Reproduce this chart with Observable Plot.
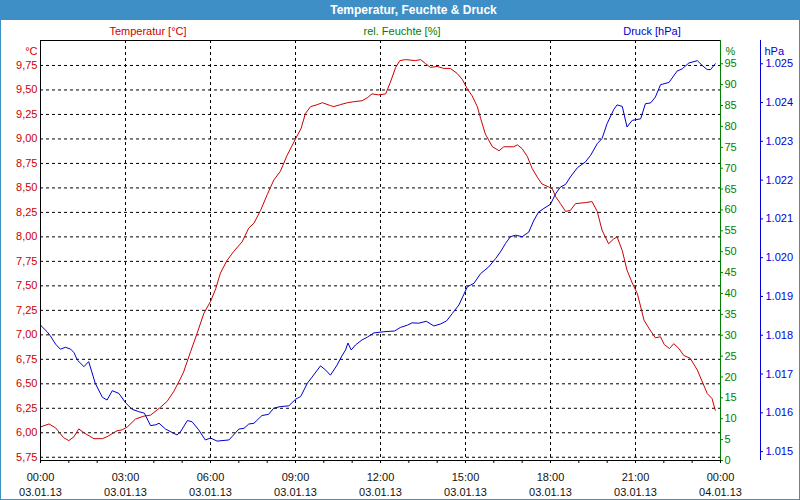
<!DOCTYPE html>
<html>
<head>
<meta charset="utf-8">
<script src="https://cdn.jsdelivr.net/npm/d3@7"></script>
<script src="https://cdn.jsdelivr.net/npm/@observablehq/plot@0.6"></script>
<style>
  html, body { margin: 0; padding: 0; background: #fff; }
  #wrap { position: relative; width: 800px; height: 500px; overflow: hidden; background: #fff; font-family: "Liberation Sans", Arial, sans-serif; }
  #title { position: absolute; left: 0; top: 0; width: 800px; height: 20px; background: #3f8fc7; color: #fff;
           font-weight: bold; font-size: 12px; line-height: 20px; text-align: center; padding-left: 27px; box-sizing: border-box; z-index: 3; }
  #border { position: absolute; left: 0; top: 0; width: 800px; height: 500px; border: 1px solid #3f8fc7; box-sizing: border-box; z-index: 4; pointer-events: none; }
  .lg { position: absolute; top: 24px; font-size: 11px; line-height: 14px; transform: translateX(-50%); white-space: nowrap; z-index: 3; }
  #chart { position: absolute; left: 0; top: 0; z-index: 1; }
</style>
</head>
<body>
<div id="wrap">
  <div id="title">Temperatur, Feuchte &amp; Druck</div>
  <div class="lg" style="left:148px;color:#cc0000">Temperatur [°C]</div>
  <div class="lg" style="left:402px;color:#008000">rel. Feuchte [%]</div>
  <div class="lg" style="left:652px;color:#0000cc">Druck [hPa]</div>
  <div id="chart"></div>
  <div id="border"></div>
</div>
<script>
// time in minutes since 03.01.13 00:00
const tempMinutes = [0,18,32,49,60,71,81,92,113,131,141,162,173,184,201,219,233,254,268,282,296,303,318,332,346,360,371,381,395,409,427,441,452,466,480,494,508,522,540,552,561,572,586,597,614,621,635,650,663,681,692,702,716,731,741,752,761,773,794,805,815,826,840,854,868,882,893,904,914,925,932,942,957,971,981,1002,1010,1020,1031,1041,1052,1062,1076,1084,1091,1101,1112,1122,1133,1154,1168,1179,1189,1203,1214,1221,1232,1242,1253,1264,1278,1288,1302,1313,1321,1332,1341,1352,1362,1376,1391,1412,1422,1429];
const tempValues = [6.06,6.09,6.05,5.95,5.92,5.96,6.04,6.00,5.94,5.94,5.96,6.02,6.03,6.06,6.14,6.17,6.18,6.26,6.32,6.42,6.55,6.62,6.83,7.02,7.22,7.34,7.47,7.63,7.76,7.85,7.95,8.09,8.14,8.27,8.43,8.58,8.67,8.83,9.00,9.11,9.26,9.33,9.35,9.37,9.34,9.33,9.35,9.37,9.38,9.39,9.42,9.46,9.45,9.46,9.58,9.73,9.80,9.81,9.80,9.81,9.77,9.73,9.74,9.72,9.72,9.67,9.61,9.51,9.44,9.33,9.21,9.05,8.92,8.88,8.92,8.92,8.94,8.90,8.82,8.70,8.61,8.54,8.51,8.49,8.41,8.34,8.26,8.27,8.34,8.35,8.36,8.26,8.07,7.93,7.98,8.00,7.86,7.66,7.53,7.42,7.15,7.07,6.97,6.98,6.90,6.86,6.91,6.86,6.79,6.76,6.64,6.40,6.35,6.23];

const pressMinutes = [0,14,21,32,42,53,64,71,78,92,102,116,131,141,152,166,180,194,208,220,233,244,251,265,279,289,296,311,321,335,349,360,374,399,409,420,431,441,452,469,483,494,508,526,540,551,565,575,593,604,614,627,637,646,651,658,667,681,692,706,727,750,762,777,787,801,817,833,847,860,872,886,904,918,932,949,964,974,985,995,1006,1020,1034,1045,1055,1066,1080,1091,1101,1112,1122,1137,1154,1165,1179,1189,1200,1214,1221,1232,1242,1253,1271,1281,1292,1302,1313,1331,1348,1359,1373,1391,1401,1412,1419,1429];
const pressValues = [1018.26,1018.09,1017.98,1017.77,1017.64,1017.69,1017.64,1017.55,1017.36,1017.19,1017.32,1016.76,1016.40,1016.33,1016.57,1016.50,1016.26,1016.09,1016.03,1015.99,1015.67,1015.69,1015.73,1015.58,1015.49,1015.43,1015.50,1015.80,1015.77,1015.56,1015.30,1015.35,1015.27,1015.30,1015.43,1015.58,1015.60,1015.71,1015.73,1015.93,1015.96,1016.12,1016.16,1016.18,1016.35,1016.42,1016.76,1016.92,1017.21,1017.10,1016.97,1017.21,1017.44,1017.62,1017.80,1017.62,1017.75,1017.88,1017.95,1018.06,1018.09,1018.11,1018.20,1018.26,1018.32,1018.31,1018.36,1018.24,1018.29,1018.37,1018.56,1018.78,1019.25,1019.34,1019.59,1019.76,1019.98,1020.15,1020.37,1020.54,1020.58,1020.54,1020.66,1020.97,1021.18,1021.27,1021.38,1021.65,1021.82,1021.89,1022.08,1022.32,1022.47,1022.64,1022.94,1023.07,1023.46,1023.82,1023.94,1023.90,1023.37,1023.54,1023.58,1023.97,1023.99,1024.14,1024.46,1024.52,1024.81,1024.87,1025.02,1025.08,1024.96,1024.85,1024.85,1025.00];

// axes
const tempTicks = [5.75,6.00,6.25,6.50,6.75,7.00,7.25,7.50,7.75,8.00,8.25,8.50,8.75,9.00,9.25,9.50,9.75];
const humTicks = [0,5,10,15,20,25,30,35,40,45,50,55,60,65,70,75,80,85,90,95];
const pressTicks = [1015,1016,1017,1018,1019,1020,1021,1022,1023,1024,1025];
const hourTicks = [0,60,120,180,240,300,360,420,480,540,600,660,720,780,840,900,960,1020,1080,1140,1200,1260,1320,1380,1440];
const timeTicks = [0,180,360,540,720,900,1080,1260,1440];
const timeLabels = ["00:00\n03.01.13","03:00\n03.01.13","06:00\n03.01.13","09:00\n03.01.13","12:00\n03.01.13","15:00\n03.01.13","18:00\n03.01.13","21:00\n03.01.13","00:00\n04.01.13"];

const tempDomain = [5.717, 10.005];
const humDomain = [0, 100.57];
const pressDomain = [1014.77, 1025.60];

const RED = "#cc0000", GREEN = "#008000", BLUE = "#0000cc";

// secondary axes mapped onto the temperature (y) scale
const hToT = d3.scaleLinear(humDomain, tempDomain);
const pToT = d3.scaleLinear(pressDomain, tempDomain);

const temp = tempMinutes.map((m, i) => ({m, v: tempValues[i]}));
const press = pressMinutes.map((m, i) => ({m, v: pressValues[i]}));

const grid = {stroke: "black", strokeOpacity: 1, strokeDasharray: "3,3"};

const chart = Plot.plot({
  width: 800,
  height: 500,
  marginTop: 40,
  marginBottom: 40,
  marginLeft: 40,
  marginRight: 80,
  style: {fontFamily: "Liberation Sans, Arial, sans-serif", fontSize: "11px", background: "transparent", overflow: "visible"},
  x: {domain: [0, 1440]},
  y: {domain: tempDomain},
  marks: [
    Plot.gridY(tempTicks, grid),
    Plot.gridX(timeTicks, grid),
    Plot.line(temp, {x: "m", y: "v", stroke: RED, strokeWidth: 1}),
    Plot.line(press, {x: "m", y: d => pToT(d.v), stroke: BLUE, strokeWidth: 1}),
    Plot.frame({stroke: "black"}),
    Plot.ruleX([1440], {stroke: GREEN}),
    Plot.ruleX([1440], {stroke: "#0000dd", dx: 40}),
    Plot.axisY(tempTicks, {anchor: "left", tickSize: 0, tickPadding: 3, color: RED,
      tickFormat: d => d.toFixed(2).replace(".", ","), label: null}),
    Plot.axisY(humTicks.map(h => hToT(h)), {anchor: "right", tickSize: 2, tickPadding: 2, color: GREEN,
      tickFormat: d => String(Math.round(hToT.invert(d))), label: null}),
    Plot.axisY(pressTicks.map(p => pToT(p)), {anchor: "right", dx: 40, tickSize: 2, tickPadding: 3, color: "#0000dd",
      tickFormat: d => (Math.round(pToT.invert(d)) / 1000).toFixed(3), label: null}),
    Plot.axisX(hourTicks, {anchor: "bottom", tickSize: 3, tickFormat: () => "", label: null}),
    Plot.axisX(timeTicks, {anchor: "bottom", tickSize: 0, tickPadding: 10, lineHeight: 1.36, fill: "#111",
      tickFormat: d => timeLabels[timeTicks.indexOf(d)], label: null}),
    Plot.text(["°C"], {frameAnchor: "top-left", text: d => d, dx: -3, dy: 7, textAnchor: "end", fill: RED}),
    Plot.text(["%"], {frameAnchor: "top-right", text: d => d, dx: 5, dy: 7, textAnchor: "start", fill: GREEN}),
    Plot.text(["hPa"], {frameAnchor: "top-right", text: d => d, dx: 44, dy: 7, textAnchor: "start", fill: "#0000dd"})
  ]
});
document.getElementById("chart").appendChild(chart);
</script>
</body>
</html>
